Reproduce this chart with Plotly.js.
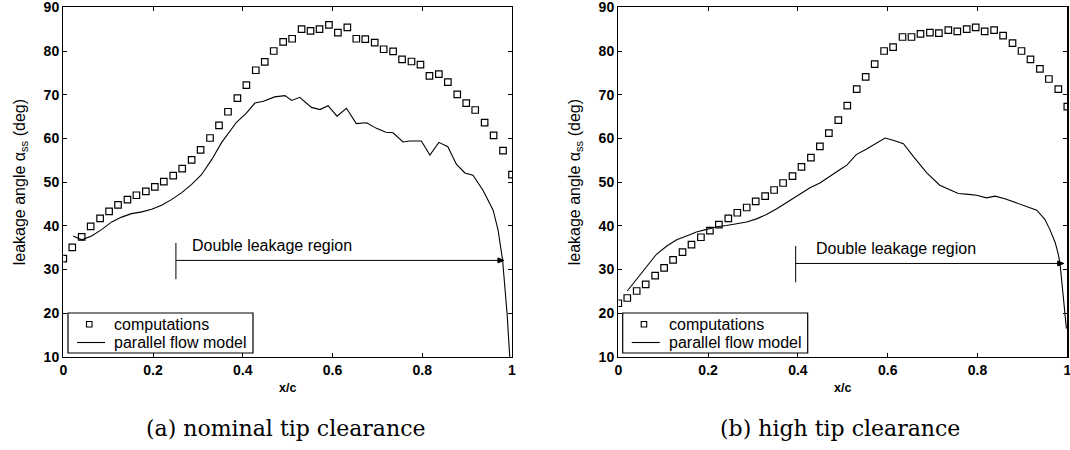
<!DOCTYPE html>
<html>
<head>
<meta charset="utf-8">
<script src="https://cdn.plot.ly/plotly-3.0.1.min.js"></script>
<style>html,body{margin:0;padding:0;background:#fff}#chart{width:1070px;height:450px}</style>
</head>
<body>
<div id="chart"></div>
<script>
// ---------- data ----------
const compX = [0, 0.02, 0.041, 0.061, 0.082, 0.102, 0.122, 0.143, 0.163, 0.184, 0.204, 0.224, 0.245, 0.265, 0.286, 0.306, 0.327, 0.347, 0.367, 0.388, 0.408, 0.429, 0.449, 0.469, 0.49, 0.51, 0.531, 0.551, 0.571, 0.592, 0.612, 0.633, 0.653, 0.673, 0.694, 0.714, 0.735, 0.755, 0.776, 0.796, 0.816, 0.837, 0.857, 0.878, 0.898, 0.918, 0.939, 0.959, 0.98, 1];

const nominalComp = [32.5, 35.1, 37.5, 39.9, 41.7, 43.3, 44.8, 46.0, 47.0, 47.9, 48.9, 50.1, 51.5, 53.1, 55.1, 57.4, 60.1, 63.0, 66.1, 69.2, 72.2, 75.6, 77.5, 80.0, 82.1, 82.8, 85.0, 84.6, 85.0, 86.0, 84.2, 85.4, 82.8, 82.7, 81.9, 80.4, 79.9, 78.1, 77.6, 76.9, 74.3, 74.7, 72.9, 70.1, 68.1, 66.5, 63.6, 60.7, 57.2, 51.7];

const nominalModelX = [0.022, 0.041, 0.063, 0.086, 0.108, 0.13, 0.152, 0.175, 0.197, 0.219, 0.241, 0.264, 0.286, 0.308, 0.331, 0.353, 0.386, 0.408, 0.427, 0.446, 0.471, 0.494, 0.509, 0.527, 0.553, 0.572, 0.59, 0.61, 0.631, 0.653, 0.676, 0.698, 0.719, 0.735, 0.757, 0.772, 0.798, 0.817, 0.837, 0.857, 0.876, 0.895, 0.913, 0.935, 0.958, 0.969, 0.979, 0.984, 0.989, 0.995];
const nominalModel  = [37.7, 36.8, 37.7, 39.2, 40.9, 42.0, 42.8, 43.2, 43.8, 44.7, 46.0, 47.6, 49.5, 51.7, 55.2, 59.1, 63.7, 65.8, 68.1, 68.5, 69.5, 69.8, 68.7, 69.4, 67.1, 66.6, 67.5, 65.1, 66.9, 63.4, 63.6, 62.3, 61.4, 61.3, 59.2, 59.4, 59.4, 56.2, 59.1, 58.1, 54.1, 52.1, 51.6, 48.2, 43.6, 39.0, 32.2, 26.8, 20.0, 10.0];

const highComp = [22.3, 23.5, 25.1, 26.6, 28.6, 30.4, 32.2, 34.0, 35.7, 37.4, 38.9, 40.3, 41.7, 43.0, 44.2, 45.6, 46.8, 48.2, 49.8, 51.4, 53.5, 55.6, 58.2, 61.2, 64.2, 67.5, 71.3, 74.1, 77.0, 80.0, 80.9, 83.2, 83.2, 83.9, 84.2, 84.1, 84.8, 84.5, 85.0, 85.4, 84.5, 84.8, 83.5, 81.8, 80.0, 78.1, 75.9, 73.6, 71.3, 67.3];

const highModelX = [0.02, 0.041, 0.063, 0.085, 0.108, 0.13, 0.152, 0.174, 0.197, 0.219, 0.241, 0.264, 0.286, 0.308, 0.33, 0.353, 0.375, 0.397, 0.427, 0.449, 0.471, 0.494, 0.509, 0.53, 0.553, 0.575, 0.594, 0.612, 0.635, 0.657, 0.687, 0.716, 0.739, 0.757, 0.78, 0.798, 0.82, 0.839, 0.861, 0.883, 0.91, 0.932, 0.95, 0.961, 0.973, 0.98, 0.984, 0.99, 0.995, 0.998];
const highModel  = [25.1, 27.8, 30.8, 33.5, 35.4, 36.8, 37.7, 38.6, 39.2, 39.8, 40.1, 40.5, 40.9, 41.6, 42.6, 43.9, 45.3, 46.8, 48.7, 49.8, 51.4, 52.9, 53.9, 56.3, 57.6, 59.0, 60.1, 59.6, 58.8, 55.9, 52.1, 49.3, 48.2, 47.4, 47.2, 47.0, 46.4, 46.8, 46.2, 45.4, 44.5, 43.6, 41.5, 39.2, 36.2, 33.5, 31.2, 25.5, 19.8, 16.5];

const xTickVals = [0, 0.2, 0.4, 0.6, 0.8, 1];
const xTickText = ['0', '0.2', '0.4', '0.6', '0.8', '1'];
const yTickVals = [10, 20, 30, 40, 50, 60, 70, 80, 90];

// double leakage region markers: [start x, end x, level]
const dlNominal = [0.251, 0.982, 32.1];
const dlHigh = [0.395, 0.992, 31.4];

const seriesNames = ['computations', 'parallel flow model'];
const captions = ['(a) nominal tip clearance', '(b) high tip clearance'];
const yTitle = 'leakage angle α<sub>ss</sub> (deg)';
const xTitle = 'x/c';
const regionLabel = 'Double leakage region';

// ---------- layout helpers ----------
const W = 1070, H = 450;
const px = v => v / W;
const py = v => 1 - v / H;
const sans = 'Liberation Sans, Arial, sans-serif';
const serif = 'DejaVu Serif, serif';

const compMarker = {symbol: 'square-open', size: 6.5, color: '#000', line: {width: 1.2, color: '#000'}};
const modelLine = {color: '#000', width: 1.1};

const traces = [
  {x: compX, y: nominalComp, type: 'scatter', mode: 'markers', name: seriesNames[0], marker: compMarker, xaxis: 'x', yaxis: 'y', showlegend: false},
  {x: nominalModelX, y: nominalModel, type: 'scatter', mode: 'lines', name: seriesNames[1], line: modelLine, xaxis: 'x', yaxis: 'y', showlegend: false},
  {x: compX, y: highComp, type: 'scatter', mode: 'markers', name: seriesNames[0], marker: compMarker, xaxis: 'x2', yaxis: 'y2', showlegend: false},
  {x: highModelX, y: highModel, type: 'scatter', mode: 'lines', name: seriesNames[1], line: modelLine, xaxis: 'x2', yaxis: 'y2', showlegend: false}
];

const tickFont = {family: sans, size: 14, color: '#000', weight: 'bold'};
function xaxis(dom, anchor) {
  return {domain: dom, anchor: anchor, range: [0, 1], tickvals: xTickVals, ticktext: xTickText,
    ticks: 'inside', ticklen: 4, tickcolor: '#000', mirror: 'ticks', showline: true, linecolor: '#000', linewidth: 1.3,
    showgrid: false, zeroline: false, tickfont: tickFont, ticklabeloverflow: 'allow', fixedrange: true,
    title: {text: xTitle, standoff: 6, font: {family: sans, size: 12.5, color: '#000', weight: 'bold'}}};
}
function yaxis(dom, anchor) {
  return {domain: dom, anchor: anchor, range: [10, 90], tickvals: yTickVals,
    ticks: 'inside', ticklen: 4, tickcolor: '#000', mirror: 'ticks', showline: true, linecolor: '#000', linewidth: 1.3,
    showgrid: false, zeroline: false, tickfont: tickFont, ticklabeloverflow: 'allow', fixedrange: true,
    title: {text: yTitle, standoff: 14, font: {family: sans, size: 16, color: '#000'}}};
}

const yDom = [py(357), py(7.3)];

// legend box drawn as shapes + text, offset dx in pixels
function legendShapes(dx) {
  return [
    {type: 'rect', xref: 'paper', yref: 'paper', x0: px(68 + dx), x1: px(253 + dx), y0: py(353), y1: py(313),
      line: {color: '#000', width: 1.2}, fillcolor: '#fff', layer: 'above'},
    {type: 'rect', xref: 'paper', yref: 'paper', x0: px(86.5 + dx), x1: px(92 + dx), y0: py(327), y1: py(321.5),
      line: {color: '#000', width: 1.1}, fillcolor: 'rgba(0,0,0,0)', layer: 'above'},
    {type: 'line', xref: 'paper', yref: 'paper', x0: px(77 + dx), x1: px(105 + dx), y0: py(342.5), y1: py(342.5),
      line: {color: '#000', width: 1.1}, layer: 'above'}
  ];
}
function legendTexts(dx) {
  return [
    {xref: 'paper', yref: 'paper', x: px(112 + dx), y: py(324), xanchor: 'left', yanchor: 'middle', showarrow: false,
      text: seriesNames[0], font: {family: sans, size: 16, color: '#000'}},
    {xref: 'paper', yref: 'paper', x: px(112 + dx), y: py(342.5), xanchor: 'left', yanchor: 'middle', showarrow: false,
      text: seriesNames[1], font: {family: sans, size: 16, color: '#000'}}
  ];
}
// "Double leakage region" bracket: start tick, horizontal line and small arrowhead
function bracket(d, xr, yr) {
  return [
    {type: 'line', xref: xr, yref: yr, x0: d[0], x1: d[0], y0: d[2] - 4.3, y1: d[2] + 4.0, line: {color: '#000', width: 1}},
    {type: 'line', xref: xr, yref: yr, x0: d[0], x1: d[1], y0: d[2], y1: d[2], line: {color: '#000', width: 1}},
    {type: 'path', xref: xr, yref: yr, xsizemode: 'pixel', ysizemode: 'pixel', xanchor: d[1], yanchor: d[2],
      path: 'M -6 -2.5 L 0 0 L -6 2.5 Z', fillcolor: '#000', line: {color: '#000', width: 1}}
  ];
}

const layout = {
  width: W, height: H,
  margin: {l: 0, r: 0, t: 0, b: 0},
  paper_bgcolor: '#fff', plot_bgcolor: '#fff',
  font: {family: sans, color: '#000'},
  showlegend: false,
  xaxis: xaxis([px(63.3), px(512)], 'y'),
  yaxis: yaxis(yDom, 'x'),
  xaxis2: xaxis([px(618.3), px(1067.3)], 'y2'),
  yaxis2: yaxis(yDom, 'x2'),
  shapes: [].concat(bracket(dlNominal, 'x', 'y'), bracket(dlHigh, 'x2', 'y2'), legendShapes(0), legendShapes(554.7)),
  annotations: [
    {xref: 'x', yref: 'y', x: 0.282, y: 35.4, xanchor: 'left', yanchor: 'middle', showarrow: false,
      text: regionLabel, font: {family: sans, size: 16, color: '#000'}},
    {xref: 'x2', yref: 'y2', x: 0.435, y: 34.8, xanchor: 'left', yanchor: 'middle', showarrow: false,
      text: regionLabel, font: {family: sans, size: 16, color: '#000'}},
    {xref: 'paper', yref: 'paper', x: px(286), y: py(428), showarrow: false, xanchor: 'center', yanchor: 'middle',
      text: captions[0], font: {family: serif, size: 22, color: '#000'}},
    {xref: 'paper', yref: 'paper', x: px(840), y: py(428), showarrow: false, xanchor: 'center', yanchor: 'middle',
      text: captions[1], font: {family: serif, size: 22, color: '#000'}}
  ].concat(legendTexts(0), legendTexts(554.7))
};

Plotly.newPlot('chart', traces, layout, {displayModeBar: false, staticPlot: true});
</script>
</body>
</html>
